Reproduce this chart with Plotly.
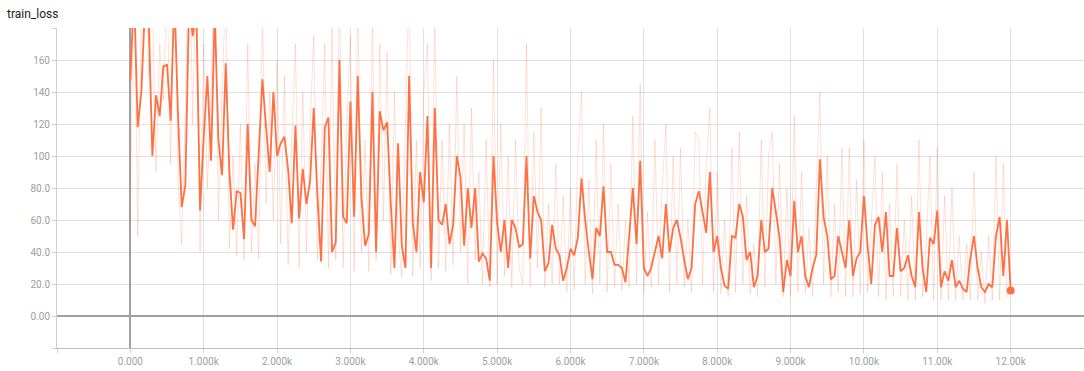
import plotly.graph_objects as go

STEP_INTERVAL = 50
NUM_POINTS = 241
steps = [i * STEP_INTERVAL for i in range(NUM_POINTS)]

# smoothed train loss (dark line), one value every 50 steps, 0 .. 12000
loss_smoothed = [
    147, 205, 118, 140, 195, 185, 100, 138, 125, 156, 157, 122, 200, 125, 68, 82, 195, 175, 190, 66,
    112, 150, 97, 190, 110, 88, 158, 90, 54, 78, 77, 48, 120, 60, 56, 105, 148, 118, 90, 140,
    100, 108, 112, 92, 58, 119, 61, 92, 70, 84, 130, 75, 34, 118, 124, 40, 46, 160, 62, 58,
    134, 62, 150, 74, 44, 51, 140, 40, 128, 116, 121, 70, 30, 108, 44, 30, 150, 58, 40, 90,
    71, 125, 30, 130, 60, 57, 70, 45, 57, 100, 87, 44, 80, 55, 80, 34, 39, 36, 22, 100,
    58, 40, 60, 30, 60, 55, 43, 45, 100, 36, 75, 65, 60, 28, 33, 57, 42, 38, 22, 30,
    42, 38, 49, 86, 60, 40, 23, 55, 50, 81, 40, 40, 32, 32, 30, 21, 50, 80, 45, 97,
    30, 25, 30, 40, 50, 36, 70, 40, 55, 60, 49, 35, 23, 30, 70, 78, 65, 52, 90, 40,
    50, 30, 19, 17, 50, 49, 70, 62, 35, 40, 18, 25, 60, 40, 42, 80, 65, 49, 15, 35,
    25, 72, 40, 50, 25, 18, 30, 38, 98, 62, 50, 23, 25, 50, 40, 30, 60, 25, 36, 40,
    75, 44, 20, 57, 62, 40, 65, 25, 25, 55, 28, 30, 38, 25, 18, 65, 30, 15, 49, 45,
    66, 18, 28, 22, 35, 18, 22, 17, 15, 36, 50, 30, 18, 15, 20, 18, 50, 62, 25, 60,
    16,
]

# raw train loss (faint line), same steps
loss_raw = [
    60, 230, 50, 190, 240, 150, 200, 90, 170, 135, 210, 95, 250, 85, 45, 130, 240, 120, 230, 40,
    170, 80, 140, 230, 60, 130, 210, 42, 100, 38, 120, 35, 170, 40, 95, 36, 190, 70, 140, 60,
    160, 45, 150, 32, 110, 170, 30, 140, 40, 120, 175, 35, 95, 170, 30, 180, 35, 210, 30, 120,
    175, 28, 200, 40, 110, 28, 190, 35, 170, 60, 165, 26, 140, 50, 24, 120, 210, 25, 110, 30,
    140, 170, 22, 190, 30, 110, 28, 120, 32, 150, 40, 120, 20, 130, 35, 90, 20, 110, 18, 160,
    20, 120, 25, 100, 18, 110, 30, 20, 170, 18, 115, 30, 130, 18, 70, 20, 95, 20, 75, 15,
    80, 16, 100, 140, 20, 85, 14, 110, 20, 120, 15, 95, 18, 70, 16, 60, 18, 125, 20, 145,
    14, 65, 18, 110, 20, 80, 120, 15, 100, 20, 105, 18, 60, 15, 115, 110, 20, 95, 130, 15,
    90, 14, 60, 12, 105, 15, 115, 20, 75, 14, 45, 12, 110, 18, 100, 115, 20, 95, 12, 80,
    12, 125, 15, 90, 14, 55, 12, 80, 140, 20, 100, 12, 70, 15, 105, 12, 105, 12, 85, 14,
    110, 15, 60, 100, 12, 90, 10, 70, 12, 95, 12, 60, 10, 75, 10, 110, 12, 45, 100, 10,
    105, 10, 75, 10, 80, 10, 50, 10, 45, 10, 90, 10, 40, 8, 50, 10, 100, 10, 95, 12,
    16,
]

x_tickvals = list(range(-1000, 13001, 1000))
x_ticktext = ["", "0.000", "1.000k", "2.000k", "3.000k", "4.000k", "5.000k", "6.000k",
              "7.000k", "8.000k", "9.000k", "10.00k", "11.00k", "12.00k", ""]
y_tickvals = list(range(-20, 181, 20))
y_ticktext = ["", "0.00", "20.0", "40.0", "60.0", "80.0", "100", "120", "140", "160", ""]

ORANGE = "#ff7043"
FONT = "Roboto"

fig = go.Figure()
fig.add_trace(go.Scatter(
    x=steps, y=loss_raw, mode="lines",
    line=dict(color="rgba(255,112,67,0.22)", width=1),
    hoverinfo="skip", showlegend=False,
))
fig.add_trace(go.Scatter(
    x=steps, y=loss_smoothed, mode="lines",
    line=dict(color=ORANGE, width=1.8),
    showlegend=False,
))
fig.add_trace(go.Scatter(
    x=[steps[-1]], y=[loss_smoothed[-1]], mode="markers",
    marker=dict(color=ORANGE, size=8),
    showlegend=False,
))

fig.update_layout(
    width=1084, height=371,
    margin=dict(l=57, r=0, t=28, b=23),
    paper_bgcolor="white", plot_bgcolor="white",
    font=dict(family=FONT, size=10, color="#9e9e9e"),
    title=dict(text="train_loss", xref="container", yref="container",
               x=7 / 1084, y=1 - 14 / 371, xanchor="left", yanchor="middle",
               font=dict(family=FONT, size=12, color="#212121")),
)
fig.update_xaxes(
    range=[-1000, 13000], tickvals=x_tickvals, ticktext=x_ticktext,
    showgrid=True, gridcolor="#e0e0e0", gridwidth=1,
    zeroline=True, zerolinecolor="#a0a0a0", zerolinewidth=1.5,
    showline=True, linecolor="#bdbdbd", linewidth=1,
    ticks="outside", ticklen=4, tickcolor="#cfcfcf",
    tickfont=dict(family=FONT, size=10, color="#9e9e9e"),
)
fig.update_yaxes(
    range=[-20, 180], tickvals=y_tickvals, ticktext=y_ticktext,
    showgrid=True, gridcolor="#e0e0e0", gridwidth=1,
    zeroline=True, zerolinecolor="#a0a0a0", zerolinewidth=1.5,
    showline=True, linecolor="#cfcfcf", linewidth=1,
    ticks="outside", ticklen=4, tickcolor="#cfcfcf",
    tickfont=dict(family=FONT, size=10, color="#9e9e9e"),
)

fig.write_html("out.html", config={"displayModeBar": False},
               post_script="document.body.style.margin='0';")
